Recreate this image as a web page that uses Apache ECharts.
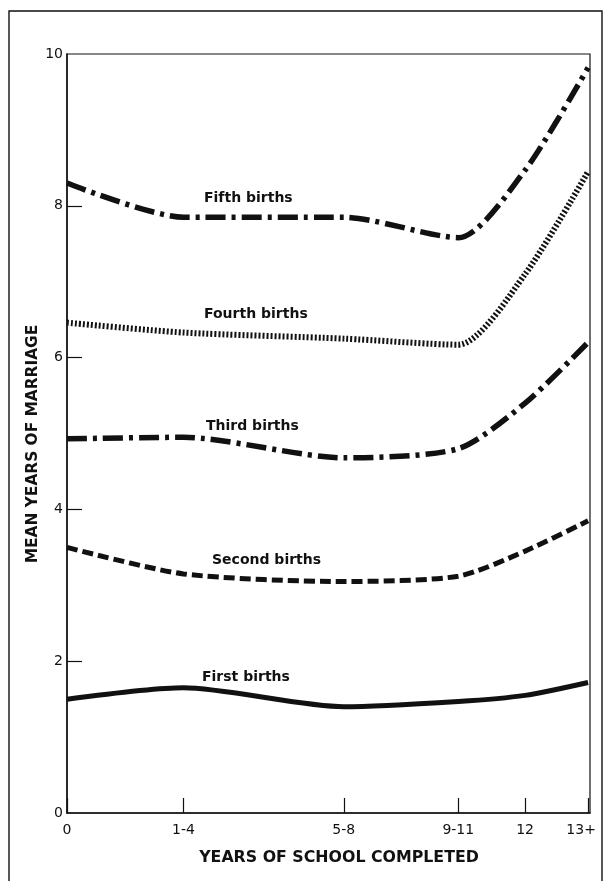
<!DOCTYPE html>
<html>
<head>
<meta charset="utf-8">
<script src="https://cdn.jsdelivr.net/npm/echarts@6/dist/echarts.min.js"></script>
<style>
  html, body { margin: 0; padding: 0; background: #fff; }
  #chart { width: 614px; height: 881px; }
</style>
</head>
<body>
<div id="chart"></div>
<script>
// Schooling groups and where each sits on the schooling scale (mean years)
const schoolGroups = ['0', '1-4', '5-8', '9-11', '12', '13+'];
const schoolYears = [0, 3.05, 7.25, 10.25, 12, 13.65];

// Mean years of marriage at each birth order
const firstBirths  = [1.50, 1.65, 1.40, 1.47, 1.55, 1.72];
const secondBirths = [3.50, 3.15, 3.05, 3.12, 3.45, 3.85];
const thirdBirths  = [4.93, 4.95, 4.68, 4.80, 5.40, 6.20];
const fourthBirths = [6.46, 6.33, 6.25, 6.17, 7.10, 8.45];
const fifthBirths  = [8.30, 7.85, 7.85, 7.58, 8.47, 9.82];

const yTicks = [0, 2, 4, 6, 8, 10];

const INK = '#111';
const pairs = vals => schoolYears.map((x, i) => [x, vals[i]]);

function lineSeries(name, vals, dash, width) {
  return {
    name: name,
    type: 'line',
    data: pairs(vals),
    smooth: 0.25,
    symbol: 'none',
    lineStyle: { color: INK, width: width, type: dash, cap: 'butt' }
  };
}

const chart = echarts.init(document.getElementById('chart'));

function plainText(text, x, y, size, rotation) {
  return {
    type: 'text',
    x: x,
    y: y,
    rotation: rotation || 0,
    silent: true,
    style: {
      text: text,
      fill: INK,
      font: 'bold ' + size + 'px "DejaVu Sans", sans-serif',
      align: 'center',
      verticalAlign: 'middle',
      textAlign: 'center',
      textVerticalAlign: 'middle'
    }
  };
}

function curveLabel(text, left, midY) {
  return {
    type: 'text',
    x: left,
    y: midY,
    silent: true,
    style: {
      text: text,
      fill: INK,
      font: 'bold 14px "DejaVu Sans", sans-serif',
      align: 'left',
      verticalAlign: 'middle',
      textAlign: 'left',
      textVerticalAlign: 'middle'
    }
  };
}

const tickFont = { color: INK, fontSize: 14, fontFamily: 'DejaVu Sans' };

chart.setOption({
  backgroundColor: '#fff',
  animation: false,
  grid: {
    left: 67, top: 54, width: 523, height: 759,
    show: true, borderColor: INK, borderWidth: 1.2, backgroundColor: 'transparent'
  },
  xAxis: {
    type: 'value',
    min: 0,
    max: 13.7,
    axisLine: { show: true, lineStyle: { color: INK, width: 1.5 } },
    axisTick: {
      show: true, inside: true, length: 15,
      customValues: schoolYears,
      lineStyle: { color: INK, width: 1.2 }
    },
    axisLabel: Object.assign({
      customValues: schoolYears,
      formatter: v => {
        const i = schoolYears.findIndex(x => Math.abs(x - v) < 1e-6);
        if (i < 0) return '';
        // keep the last label clear of the outer frame
        return i === schoolGroups.length - 1 ? '{last|' + schoolGroups[i] + '}' : schoolGroups[i];
      },
      rich: { last: { color: INK, fontSize: 14, fontFamily: 'DejaVu Sans', padding: [0, 14, 0, 0] } },
      margin: 10
    }, tickFont),
    splitLine: { show: false }
  },
  yAxis: {
    type: 'value',
    min: 0,
    max: 10,
    interval: 2,
    axisLine: { show: true, lineStyle: { color: INK, width: 1.5 } },
    axisTick: {
      show: true, inside: true, length: 15,
      customValues: yTicks.slice(1, 5),
      lineStyle: { color: INK, width: 1.2 }
    },
    axisLabel: Object.assign({ customValues: yTicks, margin: 4 }, tickFont),
    splitLine: { show: false }
  },
  series: [
    lineSeries('First births', firstBirths, 'solid', 5),
    lineSeries('Second births', secondBirths, [11, 5], 5),
    lineSeries('Third births', thirdBirths, [20, 6, 4, 6], 5.5),
    lineSeries('Fourth births', fourthBirths, [2, 2], 6),
    lineSeries('Fifth births', fifthBirths, [20, 6, 4, 6], 5.5)
  ],
  graphic: [
    {
      type: 'rect',
      shape: { x: 9, y: 11, width: 593, height: 900 },
      style: { fill: 'none', stroke: INK, lineWidth: 1.4 },
      silent: true
    },
    plainText('YEARS OF SCHOOL COMPLETED', 339, 858, 15.8, 0),
    plainText('MEAN YEARS OF MARRIAGE', 33, 444, 15.4, Math.PI / 2),
    curveLabel('Fifth births', 204, 198),
    curveLabel('Fourth births', 204, 314),
    curveLabel('Third births', 206, 426),
    curveLabel('Second births', 212, 560),
    curveLabel('First births', 202, 677)
  ]
});
</script>
</body>
</html>
